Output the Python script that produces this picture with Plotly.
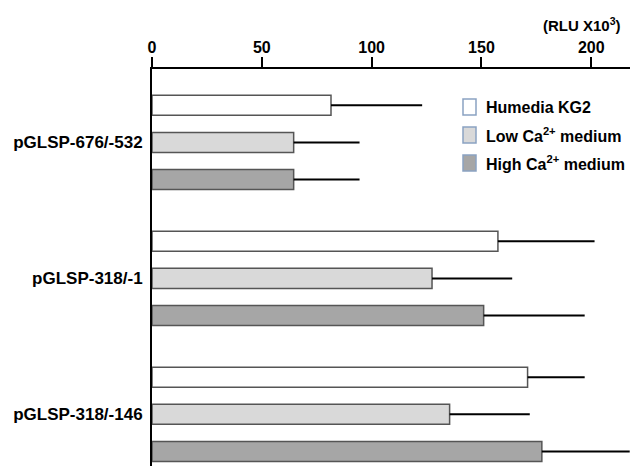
import plotly.graph_objects as go

constructs = ["pGLSP-676/-532", "pGLSP-318/-1", "pGLSP-318/-146"]
series_names = ["Humedia KG2", "Low Ca<sup>2+</sup> medium", "High Ca<sup>2+</sup> medium"]
humedia = [81.5, 157.5, 171]
humedia_err = [41.5, 44, 26]
low_ca = [64.5, 127.5, 135.5]
low_ca_err = [30, 36.5, 36.5]
high_ca = [64.5, 151, 177.5]
high_ca_err = [30, 46, 40]
x_ticks = [0, 50, 100, 150, 200]

values = [humedia, low_ca, high_ca]
errors = [humedia_err, low_ca_err, high_ca_err]
fills = ["#ffffff", "#d9d9d9", "#a6a6a6"]
FONT = "Liberation Sans, Arial, sans-serif"

fig = go.Figure()
for name, v, e, c in zip(series_names, values, errors, fills):
    fig.add_trace(go.Bar(
        y=constructs, x=v, orientation="h", name=name,
        marker=dict(color=c, line=dict(color="#555555", width=1.5)),
        error_x=dict(type="data", symmetric=False, array=e, arrayminus=[0] * len(e),
                     color="black", thickness=2, width=0),
        showlegend=False,
    ))

# page offset of the plot (body has an 8px margin)
PX0, PY0, PW, PH = 152, 69, 481, 397
leg_y = [107, 135, 163]
shapes = []
annotations = []
for name, c, yc in zip(series_names, fills, leg_y):
    shapes.append(dict(type="rect", xref="paper", yref="paper",
                       x0=(463 - PX0) / PW, x1=(476 - PX0) / PW,
                       y0=(PY0 + PH - (yc + 8)) / PH, y1=(PY0 + PH - (yc - 8)) / PH,
                       fillcolor=c, line=dict(color="#8aa2c2", width=1.5)))
    annotations.append(dict(xref="paper", yref="paper", x=(484 - PX0) / PW,
                            y=(PY0 + PH - yc) / PH, xanchor="left", yanchor="middle",
                            text="<b>" + name + "</b>", showarrow=False,
                            font=dict(family=FONT, size=16, color="black")))
annotations.append(dict(xref="paper", yref="paper", x=(623 - PX0) / PW,
                        y=(PY0 + PH - 24) / PH, xanchor="right", yanchor="middle",
                        text="<b>(RLU X10<sup>3</sup>)</b>", showarrow=False,
                        font=dict(family=FONT, size=15, color="black")))

fig.update_layout(
    width=630, height=460,
    margin=dict(l=PX0 - 8, r=630 - (PX0 - 8) - PW, t=PY0 - 8, b=460 - (PY0 - 8) - PH),
    paper_bgcolor="white", plot_bgcolor="white",
    barmode="group", bargap=0.18, bargroupgap=0.46,
    shapes=shapes, annotations=annotations,
    font=dict(family=FONT, color="black"),
    xaxis=dict(side="top", range=[0, 219], tickvals=x_ticks, ticks="outside",
               ticklen=10, tickwidth=2, tickcolor="black", showline=True,
               linecolor="black", linewidth=2, showgrid=False, zeroline=False,
               automargin=False, ticklabelstandoff=-2,
               tickfont=dict(family=FONT, size=16, color="black", weight="bold")),
    yaxis=dict(type="category", categoryarray=constructs, range=[2.38, -0.54],
               showline=True, linecolor="black", linewidth=2, showgrid=False,
               ticks="", ticklabelstandoff=4, automargin=False,
               tickfont=dict(family=FONT, size=17, color="black", weight="bold")),
)

fig.write_html("out.html")
